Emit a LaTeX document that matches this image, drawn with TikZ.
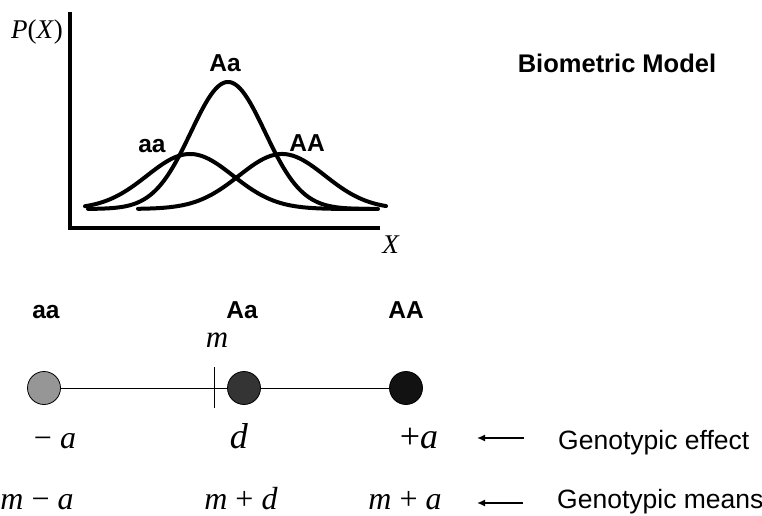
\documentclass[tikz,border=0pt]{standalone}
\usepackage{fontspec}
\setmainfont{Liberation Serif}
\setsansfont{Liberation Sans}
\usetikzlibrary{positioning, arrows.meta}
\definecolor{biolight}{RGB}{150, 150, 150}
\definecolor{biomid}{RGB}{52, 52, 52}
\definecolor{biodark}{RGB}{18, 18, 18}

\begin{document}
\begin{tikzpicture}[x=1pt, y=-1pt,
  axisline/.style={line width=4.2pt, line join=miter},
  curve/.style={line width=4pt, line cap=round, line join=round, samples=150, smooth},
  geno/.style={inner sep=0pt, anchor=base, font=\fontsize{24.5}{25}\selectfont\sffamily\bfseries},
  title/.style={inner sep=0pt, font=\fontsize{25.5}{26}\selectfont\sffamily\bfseries},
  expr/.style={inner sep=0pt, anchor=base, font=\fontsize{32}{32}\selectfont},
  note/.style={inner sep=0pt, anchor=base west, font=\fontsize{26.5}{27}\selectfont\sffamily},
  dot/.style={circle, draw, line width=0.8pt, minimum size=33pt, inner sep=0pt},
  link/.style={line width=1pt},
  arr/.style={-{Latex[length=8pt, width=7pt]}, line width=1.5pt}
]
  \useasboundingbox (0,0) rectangle (762,516);

  % Distributions
  \draw[axisline] (70,12) -- (70,228) -- (380,228);
  \node[inner sep=0pt, font=\fontsize{27}{27}\selectfont] (px) at (37,32) {\textit{P}(\textit{X})};
  \node[inner sep=0pt, font=\fontsize{27}{27}\selectfont] (xl) at (391,245) {\textit{X}};

  \draw[curve] plot[domain=85:370] (\x, {209-55*exp(-0.5*((\x-190)/43)^2)});
  \draw[curve] plot[domain=88:378] (\x, {209-127*exp(-0.5*((\x-228)/37)^2)});
  \draw[curve] plot[domain=138:386] (\x, {209-55*exp(-0.5*((\x-282)/43)^2)});

  \node[geno] (topAa) at (225,72)  {Aa};
  \node[geno] (topaa) at (152,152) {aa};
  \node[geno] (topAA) at (307,151) {AA};

  \node[title] (model) at (617,63) {Biometric Model};

  % Genotype scale
  \node[geno] (aaLbl) at (46,318)  {aa};
  \node[geno] (AaLbl) at (242,318) {Aa};
  \node[geno] (AALbl) at (406,318) {AA};
  \node[inner sep=0pt, font=\fontsize{31}{31}\selectfont] (mLbl) at (217,340) {\textit{m}};

  \node[dot, fill=biolight] (aaDot) at (44,388)  {};
  \node[dot, fill=biomid]   (AaDot) at (244,388) {};
  \node[dot, fill=biodark]  (AADot) at (406,388) {};
  \draw[link] (aaDot) -- (AaDot);
  \draw[link] (AaDot) -- (AADot);
  \coordinate (mTick) at (214,388);
  \draw[link] (mTick) ++(0,-21) -- ++(0,41);

  % Effects
  \node[expr] (effaa) at (55,448)  {−\ \textit{a}};
  \node[expr, font=\fontsize{36}{36}\selectfont] (effAa) at (239,448) {\textit{d}};
  \node[expr, font=\fontsize{36}{36}\selectfont] (effAA) at (419,448) {+\textit{a}};
  \node[note] (effect) at (558,449) {Genotypic effect};

  % Means
  \node[expr] (meanaa) at (37,509)  {\textit{m} − \textit{a}};
  \node[expr] (meanAa) at (241,509) {\textit{m} + \textit{d}};
  \node[expr] (meanAA) at (405,509) {\textit{m} + \textit{a}};
  \node[note] (means) at (557,508) {Genotypic means};

  \coordinate (effTip)  at (477,438);
  \coordinate (meanTip) at (477,503);
  \draw[arr, shorten <=34pt] (effect.west |- effTip) -- (effTip);
  \draw[arr, shorten <=34pt] (means.west |- meanTip) -- (meanTip);
\end{tikzpicture}
\end{document}
